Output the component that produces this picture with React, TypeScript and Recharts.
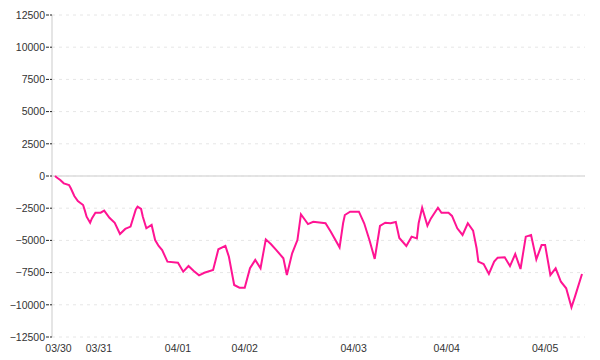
import { LineChart, Line, XAxis, YAxis, CartesianGrid, ReferenceLine } from 'recharts'

// sample number along the x axis (uneven spacing between days)
const steps = [
  0, 1, 3, 5, 8, 9, 11, 13, 16, 17, 18, 20, 21, 23, 26, 28, 31, 34, 37, 40, 43, 46, 47, 49, 50, 52,
  55, 57, 59, 61, 64, 70, 73, 76, 79, 82, 85, 90, 93, 97, 99, 102, 105, 108, 111, 114, 117, 120,
  123, 126, 130, 132, 135, 138, 140, 144, 147, 154, 157, 162, 164, 165, 168, 173, 176, 179, 182,
  185, 188, 191, 194, 196, 200, 203, 206, 207, 209, 212, 214, 218, 220, 224, 226, 229, 232, 235,
  238, 240, 241, 244, 247, 250, 252, 256, 259, 262, 265, 268, 271, 274, 277, 279, 282, 285, 288,
  291, 294, 296, 300,
]

const pnl = [
  0, -120, -310, -570, -700, -955, -1550, -1940, -2250, -2690, -3160, -3630, -3290, -2850, -2850,
  -2690, -3240, -3630, -4500, -4110, -3930, -2590, -2380, -2560, -3160, -4060, -3800, -4970, -5430,
  -5750, -6650, -6730, -7430, -6990, -7380, -7710, -7510, -7300, -5690, -5430, -6270, -8460, -8670,
  -8670, -7160, -6520, -7160, -4920, -5300, -5750, -6390, -7690, -6000, -4970, -2970, -3730, -3550,
  -3670, -4320, -5540, -3670, -3030, -2770, -2770, -3670, -4970, -6440, -3880, -3630, -3670, -3570,
  -4810, -5430, -4710, -4840, -3670, -2460, -3860, -3290, -2460, -2850, -2850, -3100, -4060, -4580,
  -3670, -4240, -5610, -6650, -6830, -7610, -6650, -6340, -6310, -6990, -6060, -7220, -4710, -4580,
  -6470, -5360, -5360, -7690, -7170, -8210, -8720, -10190, -9370, -7610,
]

const dayLabels = ['03/30', '03/31', '04/01', '04/02', '04/03', '04/04', '04/05']
const dayTicks = [2, 25, 70, 108, 170, 223, 279]
const yTicks = [-12500, -10000, -7500, -5000, -2500, 0, 2500, 5000, 7500, 10000, 12500]

const data = steps.map((s, i) => ({ step: s, pnl: pnl[i] }))

const font = { fontFamily: '"Liberation Sans", Arial, sans-serif', fontSize: 10.5, fill: '#333' }

export default function App() {
  return (
    <div style={{ position: 'absolute', left: 0, top: 0, background: '#fff' }}>
      <LineChart width={600} height={360} data={data} margin={{ top: 15, right: 15, left: 0, bottom: 0 }}>
        <CartesianGrid vertical={false} stroke="#e6e6e6" strokeDasharray="3 4" />
        <ReferenceLine y={0} stroke="#dddddd" strokeWidth={1.5} />
        <XAxis
          type="number"
          dataKey="step"
          domain={[0, 300]}
          ticks={dayTicks}
          interval={0}
          tickFormatter={(v: number) => dayLabels[dayTicks.indexOf(v)] ?? ''}
          axisLine={false}
          tickLine={false}
          tick={font}
          height={23}
          padding={{ left: 3, right: 3 }}
        />
        <YAxis
          type="number"
          domain={[-12500, 12500]}
          ticks={yTicks}
          interval={0}
          width={52}
          tick={font}
          tickSize={6}
          tickMargin={1}
          axisLine={{ stroke: '#dddddd', strokeWidth: 1.5 }}
          tickLine={{ stroke: '#222', strokeDasharray: '3 1' }}
          tickFormatter={(v: number) => String(v).replace('-', '\u2212')}
        />
        <Line
          type="linear"
          dataKey="pnl"
          stroke="#ff1493"
          strokeWidth={2}
          dot={false}
          isAnimationActive={false}
        />
      </LineChart>
    </div>
  )
}
